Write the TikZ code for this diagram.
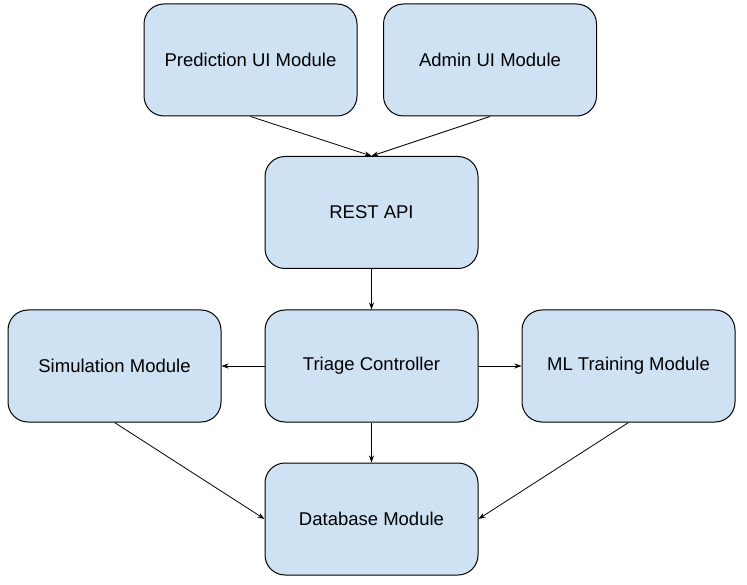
\documentclass[tikz,border=0pt]{standalone}
\usepackage{fontspec}
\setmainfont{Liberation Sans}
\usetikzlibrary{arrows.meta}
\definecolor{boxfill}{HTML}{CFE2F3}
\begin{document}
\begin{tikzpicture}[x=1pt,y=-1pt,
  modbox/.style={draw=black, line width=1pt, fill=boxfill, rounded corners=20pt,
    minimum width=213pt, minimum height=112pt, inner sep=0pt,
    font=\fontsize{18.5}{22}\selectfont},
  conn/.style={draw=black, line width=0.8pt, -{Stealth[length=7pt,width=5pt]}}]
\useasboundingbox (0,0) rectangle (747,585);
\node[modbox] (pred) at (250.5,60) {Prediction UI Module};
\node[modbox] (admin) at (490,60) {Admin UI Module};
\node[modbox] (rest) at (371.5,212.5) {REST API};
\node[modbox] (sim) at (114.5,366) {Simulation Module};
\node[modbox] (tri) at (371.5,366) {Triage Controller};
\node[modbox] (ml) at (628.5,366) {ML Training Module};
\node[modbox] (db) at (371.5,519) {Database Module};
\draw[conn] (pred.south) -- (rest.north);
\draw[conn] (admin.south) -- (rest.north);
\draw[conn] (rest.south) -- (tri.north);
\draw[conn] (tri.west) -- (sim.east);
\draw[conn] (tri.east) -- (ml.west);
\draw[conn] (tri.south) -- (db.north);
\draw[conn] (sim.south) -- (db.west);
\draw[conn] (ml.south) -- (db.east);
\end{tikzpicture}
\end{document}
